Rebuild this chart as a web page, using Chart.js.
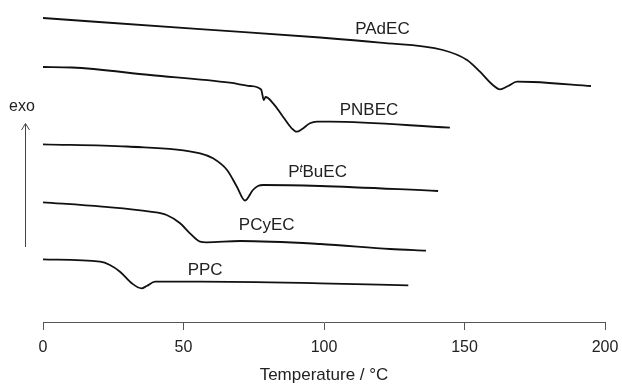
<!DOCTYPE html>
<html>
<head>
<meta charset="utf-8">
<script src="https://cdn.jsdelivr.net/npm/chart.js@4"></script>
<style>
  html, body { margin: 0; padding: 0; background: #fff; }
  #wrap { width: 622px; height: 386px; position: relative; }
</style>
</head>
<body>
<div id="wrap"><canvas id="dscChart"></canvas></div>
<script>
// DSC traces, temperature in °C, heat flow in arbitrary units (offset, exo up)
var padecT = [0, 55.9, 98.6, 119.9, 142.3, 150.9, 155.5, 160.1, 162.6, 165.5, 168.7, 174.4, 195.0];
var padecV = [30.4, 29.28, 28.45, 27.93, 27.2, 26.2, 25.03, 23.7, 23.27, 23.6, 24.03, 24.0, 23.6];

var pnbecT = [0, 10.3, 38.1, 66.5, 73.7, 77.6, 78.6, 79.2, 81.9, 85.4, 88.5, 90.3, 92.1, 95.0, 97.5, 102.1, 144.8];
var pnbecV = [25.5, 25.45, 24.7, 23.93, 23.6, 23.25, 22.2, 22.5, 21.87, 20.53, 19.37, 19.03, 19.27, 19.87, 20.03, 20.03, 19.43];

var ptbuecT = [0, 29.9, 55.9, 60.5, 65.5, 69.0, 71.9, 74.7, 76.5, 78.3, 98.6, 140.6];
var ptbuecV = [17.77, 17.55, 16.87, 16.37, 15.2, 13.53, 12.15, 13.2, 13.6, 13.7, 13.6, 13.1];

var pcyecT = [0, 21.0, 38.1, 44.0, 48.8, 52.3, 55.9, 58.2, 70.1, 98.6, 123.5, 136.3];
var pcyecV = [11.97, 11.53, 11.03, 10.7, 9.87, 8.87, 8.03, 7.97, 8.1, 7.8, 7.3, 7.13];

var ppcT = [0, 20.3, 23.8, 27.4, 31.6, 35.1, 36.9, 39.9, 55.9, 98.6, 130.0];
var ppcV = [6.27, 6.03, 5.7, 5.03, 3.87, 3.37, 3.6, 4.03, 4.03, 3.87, 3.67];

var curveNames = ["PAdEC", "PNBEC", "PtBuEC", "PCyEC", "PPC"];
var labelT = [120.8, 116.0, 97.7, 79.6, 57.7];
var labelV = [29.3, 21.2, 14.95, 9.7, 5.12];

var xTicks = [0, 50, 100, 150, 200];

function toPoints(xs, ys) {
    return xs.map(function(x, i) { return { x: x, y: ys[i] }; });
}

var series = [
    toPoints(padecT, padecV),
    toPoints(pnbecT, pnbecV),
    toPoints(ptbuecT, ptbuecV),
    toPoints(pcyecT, pcyecV),
    toPoints(ppcT, ppcV)
];

var FONT = "'Liberation Sans', Arial, sans-serif";

// curve names, the exo arrow on the left
var annotations = {
    id: "annotations",
    afterDraw: function(chart) {
        var c = chart.ctx;
        var xs = chart.scales.x, ys = chart.scales.y;
        c.save();
        c.fillStyle = "#222";
        c.font = "17px " + FONT;
        c.textBaseline = "middle";
        curveNames.forEach(function(name, i) {
            var px = xs.getPixelForValue(labelT[i]);
            var py = ys.getPixelForValue(labelV[i]);
            if (name === "PtBuEC") {
                // P + superscript italic t + BuEC
                var w1 = c.measureText("P").width;
                c.font = "italic 11px " + FONT;
                var w2 = c.measureText("t").width;
                c.font = "17px " + FONT;
                var w3 = c.measureText("BuEC").width;
                var x0 = px - (w1 + w2 + w3) / 2;
                c.textAlign = "left";
                c.fillText("P", x0, py);
                c.font = "italic 11px " + FONT;
                c.fillText("t", x0 + w1, py - 4);
                c.font = "17px " + FONT;
                c.fillText("BuEC", x0 + w1 + w2, py);
            } else {
                c.textAlign = "center";
                c.fillText(name, px, py);
            }
        });

        c.textAlign = "center";
        c.font = "16px " + FONT;
        c.fillText("exo", 22, 107);

        c.strokeStyle = "#444";
        c.lineWidth = 1;
        c.beginPath();
        c.moveTo(25.5, 247);
        c.lineTo(25.5, 124);
        c.moveTo(21.5, 130);
        c.lineTo(25.5, 123.5);
        c.lineTo(29.5, 130);
        c.stroke();
        c.restore();
    }
};

var ctx = document.getElementById("dscChart").getContext("2d");
var dscChart = new Chart(ctx, {
    type: "line",
    data: {
        datasets: series.map(function(pts, i) {
            return {
                label: curveNames[i],
                data: pts,
                borderColor: "#111",
                borderWidth: 1.8,
                pointRadius: 0,
                fill: false,
                cubicInterpolationMode: "monotone"
            };
        })
    },
    options: {
        responsive: true,
        maintainAspectRatio: false,
        animation: false,
        layout: { padding: { left: 43, right: 17, top: 0, bottom: 0 } },
        plugins: { legend: { display: false }, tooltip: { enabled: false } },
        scales: {
            x: {
                type: "linear",
                min: 0,
                max: 200,
                afterBuildTicks: function(axis) {
                    axis.ticks = xTicks.map(function(v) { return { value: v }; });
                },
                afterFit: function(axis) {
                    axis.height = 64;
                    axis.paddingLeft = 0;
                    axis.paddingRight = 0;
                },
                grid: { drawOnChartArea: false, drawTicks: true, tickLength: 8, color: "#555" },
                border: { display: true, color: "#555", width: 1 },
                ticks: { color: "#222", padding: 8, font: { size: 16, family: FONT } },
                title: {
                    display: true,
                    text: "Temperature / °C",
                    color: "#222",
                    font: { size: 17, family: FONT },
                    padding: { top: 0, bottom: 0 }
                }
            },
            y: {
                display: false,
                min: 0,
                max: 32.2
            }
        }
    },
    plugins: [annotations]
});
</script>
</body>
</html>
